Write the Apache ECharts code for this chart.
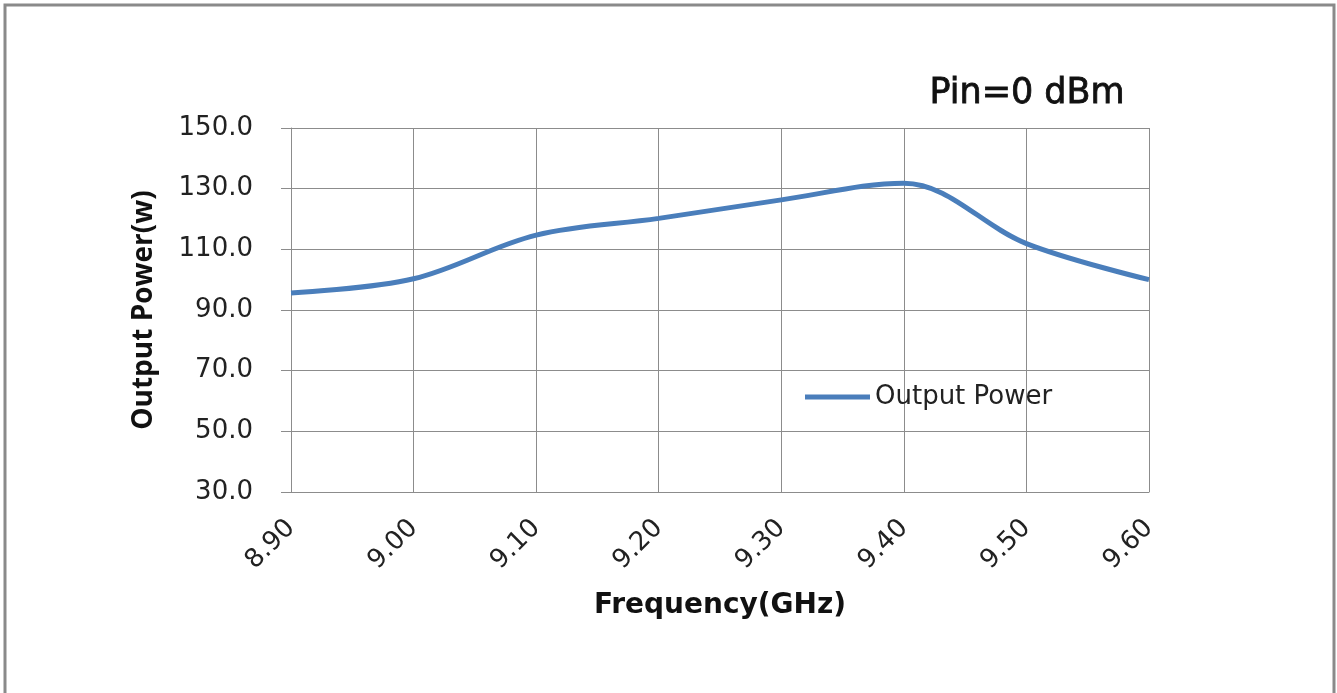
<!DOCTYPE html>
<html>
<head>
<meta charset="utf-8">
<title>Output Power vs Frequency</title>
<script src="https://cdn.jsdelivr.net/npm/echarts@6/dist/echarts.min.js"></script>
<style>
  html, body { margin: 0; padding: 0; background: #fff; }
  #chartDiv { width: 1337px; height: 693px; }
</style>
</head>
<body>
<div id="chartDiv"></div>
<script>
var freqs = [8.90, 9.00, 9.10, 9.20, 9.30, 9.40, 9.50, 9.60];
var outputPower = [95.6, 100.3, 114.7, 120.2, 126.3, 131.8, 111.9, 100.0];
var seriesName = 'Output Power';

var powerChart;

function buildData() {
  var arr = [];
  for (var i = 0; i < freqs.length; i++) {
    arr.push([freqs[i], outputPower[i]]);
  }
  return arr;
}

var gridColor = '#8c8c8c';

var powerOption = {
  backgroundColor: '#fff',
  animation: false,
  grid: { left: 291, top: 128, right: 188, bottom: 201, containLabel: false },
  graphic: [
    {
      type: 'rect',
      shape: { x: 5, y: 5, width: 1329, height: 720 },
      style: { fill: 'none', stroke: '#8a8a8a', lineWidth: 3 },
      z: 100
    },
    {
      type: 'text',
      left: 929,
      top: 76,
      style: {
        text: 'Pin=0 dBm',
        fontFamily: 'DejaVu Sans',
        fontSize: 35,
        fill: '#111',
        stroke: '#111',
        lineWidth: 0.8
      }
    }
  ],
  legend: {
    left: 805,
    top: 384,
    padding: 0,
    itemWidth: 65,
    itemHeight: 5,
    icon: 'rect',
    textStyle: { fontFamily: 'DejaVu Sans', fontSize: 26, color: '#222' },
    data: [seriesName]
  },
  xAxis: {
    type: 'value',
    min: 8.9,
    max: 9.6,
    interval: 0.1,
    name: 'Frequency(GHz)',
    nameLocation: 'middle',
    nameGap: 100,
    nameTextStyle: { fontFamily: 'DejaVu Sans', fontWeight: 'bold', fontSize: 28, color: '#111' },
    axisLine: { show: true, onZero: false, lineStyle: { color: gridColor, width: 1 } },
    axisTick: { show: false },
    splitLine: { show: true, lineStyle: { color: gridColor, width: 1 } },
    axisLabel: {
      rotate: 45,
      margin: 32,
      fontFamily: 'DejaVu Sans',
      fontSize: 26,
      color: '#222',
      formatter: function (v) { return v.toFixed(2); }
    }
  },
  yAxis: {
    type: 'value',
    min: 30,
    max: 150,
    interval: 20,
    name: 'Output Power(w)',
    nameLocation: 'middle',
    nameRotate: 90,
    nameGap: 133,
    nameTextStyle: { fontFamily: 'Open Sans', fontWeight: 'bold', fontSize: 28, color: '#111' },
    axisLine: { show: true, lineStyle: { color: gridColor, width: 1 } },
    axisTick: { show: true, inside: false, length: 10, lineStyle: { color: gridColor } },
    splitLine: { show: true, lineStyle: { color: gridColor, width: 1 } },
    axisLabel: {
      margin: 38,
      fontFamily: 'DejaVu Sans',
      fontSize: 26,
      color: '#222',
      formatter: function (v) { return v.toFixed(1); }
    }
  },
  color: ['#4a7ebb'],
  series: [
    {
      name: seriesName,
      type: 'line',
      smooth: 0.35,
      showSymbol: false,
      symbol: 'none',
      lineStyle: { width: 5, color: '#4a7ebb' },
      data: buildData()
    }
  ]
};

function initChart() {
  powerChart = echarts.init(document.getElementById('chartDiv'));
  powerChart.setOption(powerOption);
}
initChart();
</script>
</body>
</html>
